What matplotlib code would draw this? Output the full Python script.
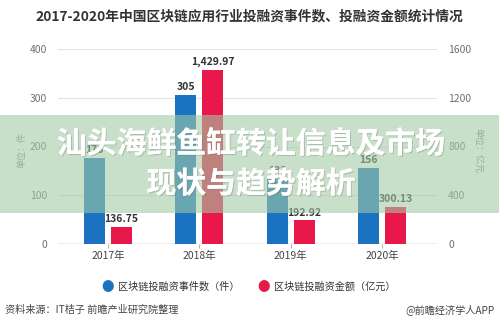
import matplotlib
matplotlib.use("Agg")
import matplotlib.pyplot as plt
from matplotlib.patches import Rectangle
import matplotlib.patheffects as pe

plt.rcParams['font.family'] = ['Noto Sans CJK SC', 'DejaVu Sans']

years = ["2017年", "2018年", "2019年", "2020年"]
event_counts = [176, 305, 133, 156]
funding_amounts = [136.75, 1429.97, 192.92, 300.13]
left_ticks = [0, 100, 200, 300, 400]
right_ticks = [0, 400, 800, 1200, 1600]

BLUE = "#1a72c0"
RED = "#e8194a"
GRID = "#e3e3e3"
TICK = "#707070"

fig = plt.figure(figsize=(4.99, 3.29), dpi=100)
fig.patch.set_facecolor("white")

ax = fig.add_axes([58 / 499, 85 / 329, 379 / 499, 195 / 329])
ax2 = ax.twinx()

x = list(range(len(years)))
w = 0.23
off = 0.148
ax.bar([i - off for i in x], event_counts, width=w, color=BLUE, zorder=3)
ax2.bar([i + off for i in x], funding_amounts, width=w, color=RED, zorder=3)

for i, v in enumerate(event_counts):
    ax.text(i - off, v + 6, str(v), ha="center", va="bottom", fontsize=7.5,
            fontweight="bold", color="#333333", zorder=4)
for i, v in enumerate(funding_amounts):
    ax2.text(i + off, v + 24, f"{v:,.2f}", ha="center", va="bottom", fontsize=7.5,
             fontweight="bold", color="#333333", zorder=4)

ax.set_xlim(-0.548, 3.6)
ax.set_ylim(0, 400)
ax2.set_ylim(0, 1600)
ax.set_yticks(left_ticks)
ax2.set_yticks(right_ticks)
ax.set_xticks(x)
ax.set_xticklabels(years)

ax.grid(axis="y", color=GRID, linewidth=0.8, zorder=0)
ax.set_axisbelow(True)
for a in (ax, ax2):
    for s in ("top", "left", "right", "bottom"):
        a.spines[s].set_visible(False)
ax.axhline(0, color="#b5b5b5", linewidth=1.0, zorder=2)

ax.tick_params(axis="y", length=0, labelsize=7.5, labelcolor=TICK, pad=8)
ax2.tick_params(axis="y", length=0, labelsize=7.5, labelcolor=TICK, pad=8)
ax.tick_params(axis="x", length=3, color="#b5b5b5", labelsize=7.5,
               labelcolor="#444444", pad=2)

fig.text(22 / 499, 1 - 150 / 329, "单位：件", rotation=90, ha="center",
         va="center", fontsize=6.5, color="#888888")
fig.text(478 / 499, 1 - 150 / 329, "单位：亿元", rotation=270, ha="center",
         va="center", fontsize=6.5, color="#888888")

fig.text(249 / 499, 1 - 16 / 329,
         "2017-2020年中国区块链应用行业投融资事件数、投融资金额统计情况",
         ha="center", va="center", fontsize=9.9, fontweight="bold", color="#333333")

# legend
fig.text(108 / 499, 1 - 287 / 329, "●", ha="center", va="center", fontsize=9, color=BLUE)
fig.text(118 / 499, 1 - 287 / 329, "区块链投融资事件数（件）", ha="left", va="center",
         fontsize=7.3, color="#333333")
fig.text(264 / 499, 1 - 287 / 329, "●", ha="center", va="center", fontsize=9, color=RED)
fig.text(274 / 499, 1 - 287 / 329, "区块链投融资金额（亿元）", ha="left", va="center",
         fontsize=7.3, color="#333333")

fig.text(5 / 499, 1 - 310 / 329, "资料来源：IT桔子 前瞻产业研究院整理", ha="left",
         va="center", fontsize=7.3, color="#444444")
fig.text(495 / 499, 1 - 310 / 329, "@前瞻经济学人APP", ha="right", va="center",
         fontsize=7.3, color="#444444")

# green banner with headline
fig.patches.append(Rectangle((0, 1 - 213 / 329), 1, 98 / 329, transform=fig.transFigure,
                             facecolor=(162 / 255, 203 / 255, 164 / 255), alpha=0.59,
                             edgecolor="none", zorder=5))
shadow = [pe.withSimplePatchShadow(offset=(0.8, -0.8), shadow_rgbFace="#777777", alpha=0.35),
          pe.Normal()]
fig.text(251 / 499, 1 - 144 / 329, "汕头海鲜鱼缸转让信息及市场", ha="center", va="center",
         fontsize=21.5, fontweight="bold", color="white", zorder=6, path_effects=shadow)
fig.text(251 / 499, 1 - 184 / 329, "现状与趋势解析", ha="center", va="center",
         fontsize=21.5, fontweight="bold", color="white", zorder=6, path_effects=shadow)

fig.savefig("out.png", dpi=100)
